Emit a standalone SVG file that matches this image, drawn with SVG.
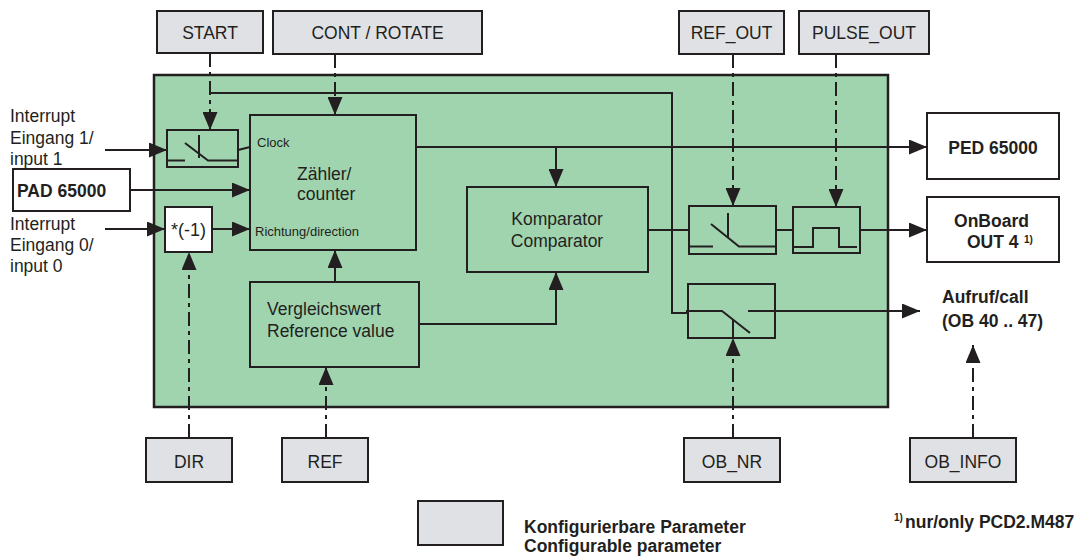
<svg xmlns="http://www.w3.org/2000/svg" width="1081" height="558" viewBox="0 0 1081 558">
  <defs>
    <marker id="arrow" markerUnits="userSpaceOnUse" markerWidth="18" markerHeight="15" refX="18" refY="7.5" orient="auto">
      <path d="M0,0 L18,7.5 L0,15 z" fill="#231f20"/>
    </marker>
    <style>
      text { font-family: "Liberation Sans", Arial, sans-serif; fill: #231f20; }
      .param rect { fill: #dfe1e5; stroke: #231f20; stroke-width: 2; }
      .white { fill: #ffffff; stroke: #231f20; stroke-width: 2; }
      .green { fill: #a0d4af; stroke: #231f20; stroke-width: 2; }
      .sym { fill: none; stroke: #231f20; stroke-width: 2; }
      .wire { fill: none; stroke: #231f20; stroke-width: 2; }
      .dd { stroke-dasharray: 14 5 4 5; }
      .lbl { font-size: 17.5px; }
      .mid { text-anchor: middle; }
      .b { font-weight: bold; }
      .small { font-size: 13px; }
    </style>
  </defs>

  <rect width="1081" height="558" fill="#ffffff"/>

  <!-- counter module frame -->
  <g id="module">
    <rect x="154" y="75" width="734" height="332" fill="#a0d4af" stroke="#231f20" stroke-width="2.5"/>
  </g>

  <!-- configurable parameters -->
  <g id="start" class="param"><rect x="157" y="11" width="106" height="42"/><text class="lbl mid" x="210" y="39">START</text></g>
  <g id="cont_rotate" class="param"><rect x="273" y="11" width="209" height="43"/><text class="lbl mid" x="377.5" y="39">CONT / ROTATE</text></g>
  <g id="ref_out" class="param"><rect x="679" y="11" width="105" height="43"/><text class="lbl mid" x="731.5" y="39">REF_OUT</text></g>
  <g id="pulse_out" class="param"><rect x="799" y="11" width="130" height="43"/><text class="lbl mid" x="864" y="39">PULSE_OUT</text></g>
  <g id="dir" class="param"><rect x="146" y="438" width="86" height="44"/><text class="lbl mid" x="189" y="468">DIR</text></g>
  <g id="ref" class="param"><rect x="282" y="438" width="86" height="44"/><text class="lbl mid" x="325" y="468">REF</text></g>
  <g id="ob_nr" class="param"><rect x="684" y="438" width="96" height="44"/><text class="lbl mid" x="732" y="468">OB_NR</text></g>
  <g id="ob_info" class="param"><rect x="910" y="438" width="106" height="44"/><text class="lbl mid" x="963" y="468">OB_INFO</text></g>

  <!-- legend -->
  <g id="legend">
    <g class="param"><rect x="418" y="501" width="85" height="44"/></g>
    <text class="b" x="524" y="533" font-size="17.5">Konfigurierbare Parameter</text>
    <text class="b" x="524" y="552" font-size="17.5">Configurable parameter</text>
  </g>

  <!-- inputs -->
  <g id="interrupt1">
    <text class="lbl" x="10" y="122">Interrupt</text>
    <text class="lbl" x="10" y="144">Eingang 1/</text>
    <text class="lbl" x="10" y="165">input 1</text>
  </g>
  <g id="pad">
    <rect class="white" x="13" y="169" width="117" height="42"/>
    <text class="lbl b" x="17" y="197" font-size="18">PAD 65000</text>
  </g>
  <g id="interrupt0">
    <text class="lbl" x="10" y="230">Interrupt</text>
    <text class="lbl" x="10" y="251">Eingang 0/</text>
    <text class="lbl" x="10" y="272">input 0</text>
  </g>

  <!-- outputs -->
  <g id="ped">
    <rect class="white" x="927" y="113" width="132" height="66"/>
    <text class="lbl b mid" x="993" y="154" font-size="18">PED 65000</text>
  </g>
  <g id="onboard">
    <rect class="white" x="927" y="197" width="132" height="65"/>
    <text class="lbl b mid" x="991.5" y="227" font-size="18">OnBoard</text>
    <text class="lbl b" x="967" y="248" font-size="18">OUT 4</text>
    <text class="b" x="1024" y="243" font-size="10">1)</text>
  </g>
  <g id="call">
    <text class="lbl b" x="942" y="303" font-size="18">Aufruf/call</text>
    <text class="lbl b" x="942" y="327" font-size="18">(OB 40 .. 47)</text>
  </g>

  <!-- internal blocks -->
  <g id="clock_gate">
    <rect class="green" x="167" y="130" width="71" height="37"/>
    <path class="sym" d="M167,160.5 H185 M185,143 L208,160.5 H238 M199,135 V158"/>
  </g>
  <g id="invert">
    <rect class="white" x="165" y="207" width="47" height="45"/>
    <text class="mid" x="188.5" y="236" font-size="18">*(-1)</text>
  </g>
  <g id="counter">
    <rect class="green" x="250" y="115" width="166" height="135"/>
    <text class="small" x="257" y="147">Clock</text>
    <text class="lbl" x="297" y="180" font-size="18.5">Zähler/</text>
    <text class="lbl" x="297" y="200" font-size="18.5">counter</text>
    <text class="small" x="255" y="236">Richtung/direction</text>
  </g>
  <g id="reference_value">
    <rect class="green" x="250" y="282" width="169" height="85"/>
    <text class="lbl" x="267" y="315" font-size="18">Vergleichswert</text>
    <text class="lbl" x="267" y="337" font-size="18">Reference value</text>
  </g>
  <g id="comparator">
    <rect class="green" x="467" y="187" width="181" height="85"/>
    <text class="lbl mid" x="557" y="225" font-size="18">Komparator</text>
    <text class="lbl mid" x="557" y="247" font-size="18">Comparator</text>
  </g>
  <g id="output_gate">
    <rect class="green" x="689" y="206" width="87" height="48"/>
    <path class="sym" d="M689,246.5 H713 M711,224 L739,246.5 H776 M728,213 V237"/>
  </g>
  <g id="pulse">
    <rect class="green" x="793" y="207" width="67" height="46"/>
    <path class="sym" d="M793,247 H813 V228 H839 V247 H857"/>
  </g>
  <g id="call_gate">
    <rect class="green" x="688" y="284" width="87" height="54"/>
    <path class="sym" d="M686,311 H722 L750,333 M733,320 V338"/>
  </g>

  <!-- footnote -->
  <g id="footnote">
    <text class="b" x="894" y="521" font-size="10">1)</text>
    <text class="b" x="905" y="528" font-size="17.5">nur/only PCD2.M487</text>
  </g>

  <!-- connectors -->
  <g id="connectors">
    <path class="wire dd" d="M210,53 V130" marker-end="url(#arrow)"/>
    <path class="wire" d="M210,93 H672 V313 H688"/>
    <path class="wire dd" d="M335,54 V115" marker-end="url(#arrow)"/>
    <path class="wire" d="M105,150 H167" marker-end="url(#arrow)"/>
    <path class="wire" d="M130,190 H250" marker-end="url(#arrow)"/>
    <path class="wire" d="M105,229 H165" marker-end="url(#arrow)"/>
    <path class="wire" d="M212,229 H250" marker-end="url(#arrow)"/>
    <path class="wire" d="M238,150 L250,147"/>
    <path class="wire dd" d="M189,438 V252" marker-end="url(#arrow)"/>
    <path class="wire" d="M335,282 V250" marker-end="url(#arrow)"/>
    <path class="wire dd" d="M326,438 V367" marker-end="url(#arrow)"/>
    <path class="wire" d="M419,324 H556 V272" marker-end="url(#arrow)"/>
    <path class="wire" d="M416,147 H927" marker-end="url(#arrow)"/>
    <path class="wire" d="M556,147 V187" marker-end="url(#arrow)"/>
    <path class="wire" d="M648,230 H689"/>
    <path class="wire" d="M776,230 H793"/>
    <path class="wire" d="M860,230 H927" marker-end="url(#arrow)"/>
    <path class="wire dd" d="M733,54 V206" marker-end="url(#arrow)"/>
    <path class="wire dd" d="M836,54 V207" marker-end="url(#arrow)"/>
    <path class="wire dd" d="M733,438 V338" marker-end="url(#arrow)"/>
    <path class="wire" d="M748,311 H920" marker-end="url(#arrow)"/>
    <path class="wire dd" d="M973,438 V345" marker-end="url(#arrow)"/>
  </g>
</svg>
